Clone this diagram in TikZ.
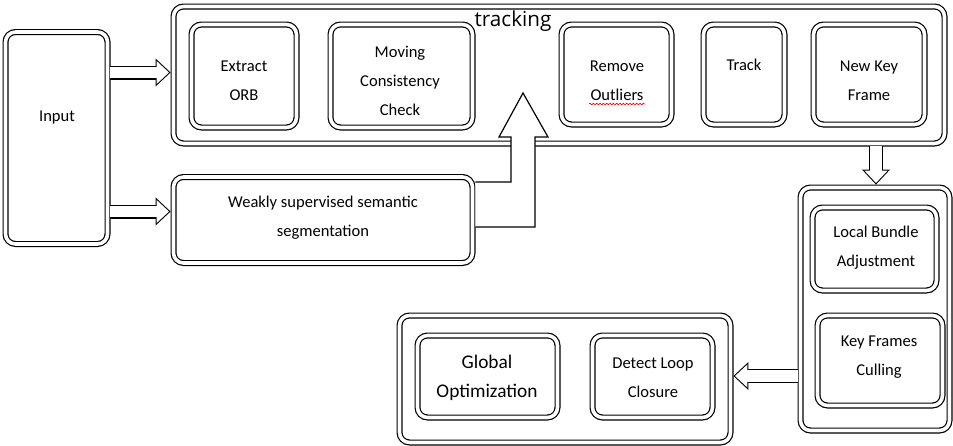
\documentclass[tikz,border=0pt]{standalone}
\usepackage{fontspec}
\setmainfont{Carlito}
\newfontfamily\headfont{Open Sans}
\usetikzlibrary{arrows.meta,fit,decorations.pathmorphing}

\begin{document}
\begin{tikzpicture}[x=0.75pt,y=-0.75pt,
	box/.style={draw, double, double distance=2.7pt, line width=0.9pt, rounded corners=7.5pt, inner sep=0pt, outer sep=2.2pt},
	txt/.style={align=center, font=\fontsize{12.4}{21.75}\selectfont},
	bigtxt/.style={align=center, font=\fontsize{14.5}{21.75}\selectfont},
	hollow/.style={preaction={draw=black, line width=10.5pt, shorten >=0pt, -{Triangle[length=11.25pt,width=21pt,line width=0pt]}},
		draw=white, line width=8.9pt, shorten >=1.2pt, -{Triangle[length=9.25pt,width=17.3pt,line width=0pt]}}]
	\useasboundingbox (0,0) rectangle (953,446);
	% boxes
	\node[box, fit={(5.5,32) (107.5,244)}] (input) {};
	\node[box, fit={(173.5,6.5) (944.5,143.5)}] (tracking) {};
	\node[box, fit={(191.5,24.5) (296.5,127.5)}] (orb) {};
	\node[box, fit={(330.5,24.5) (472.5,127.5)}] (moving) {};
	\node[box, fit={(561.5,24.5) (671.5,124.5)}] (outliers) {};
	\node[box, fit={(703.5,24.5) (784.5,124.5)}] (track) {};
	\node[box, fit={(813.5,24.5) (924.5,124.5)}] (newkf) {};
	\node[box, fit={(173.5,177) (472.5,263)}] (seg) {};
	\node[box, fit={(800.5,187.5) (949.5,430.5)}] (mapping) {};
	\node[box, fit={(812.5,207.5) (936.5,290.5)}] (lba) {};
	\node[box, fit={(817.5,315.5) (942.5,405.5)}] (culling) {};
	\node[box, fit={(399.5,315.5) (730.5,442.5)}] (closing) {};
	\node[box, fit={(417.5,335.5) (557.5,417.5)}] (globalopt) {};
	\node[box, fit={(592.5,335.5) (712.5,417.5)}] (loop) {};
	% texts
	\node[txt] (inputtxt) at (57,118) {Input};
	\node[txt] (orbtxt) at (244,80.5) {Extract\\ORB};
	\node[txt] (movingtxt) at (400,80.5) {Moving\\Consistency\\Check};
	\node[txt] (outlierstxt) at (617,81) {Remove\\Outliers};
	\node[txt] (tracktxt) at (744,65) {Track};
	\node[txt] (newkftxt) at (869,81) {New Key\\Frame};
	\node[font=\headfont\fontsize{15.5}{18}\selectfont] (trackingtxt) at (513,21) {tracking};
	\node[txt] (segtxt) at (323,217.5) {Weakly supervised semantic\\segmentation};
	\node[txt] (lbatxt) at (876,247.5) {Local Bundle\\Adjustment};
	\node[txt] (cullingtxt) at (879,357.5) {Key Frames\\Culling};
	\node[bigtxt] (globalopttxt) at (487,377.5) {Global\\Optimization};
	\node[txt] (looptxt) at (653,377.5) {Detect Loop\\Closure};
	\draw[red, line width=0.5pt, decorate, decoration={snake, amplitude=0.6pt, segment length=2.5pt}] (589,104) -- (645,104);
	% arrows
	\draw[hollow] (input.east |- 0,72.5) -- (tracking.west |- 0,72.5);
	\draw[hollow] (input.east |- 0,211.5) -- (seg.west |- 0,211.5);
	\draw[hollow] (tracking.south -| 876,0) -- (mapping.north -| 876,0);
	\draw[hollow] (mapping.west |- 0,376) -- (closing.east |- 0,376);
	\draw[fill=white, line width=0.9pt, line join=miter] (seg.east |- 0,182) -- (511,182) -- (511,137) -- (499,137) -- (523,93)
		-- (548,137) -- (535,137) -- (535,227) -- (seg.east |- 0,227);
\end{tikzpicture}
\end{document}
